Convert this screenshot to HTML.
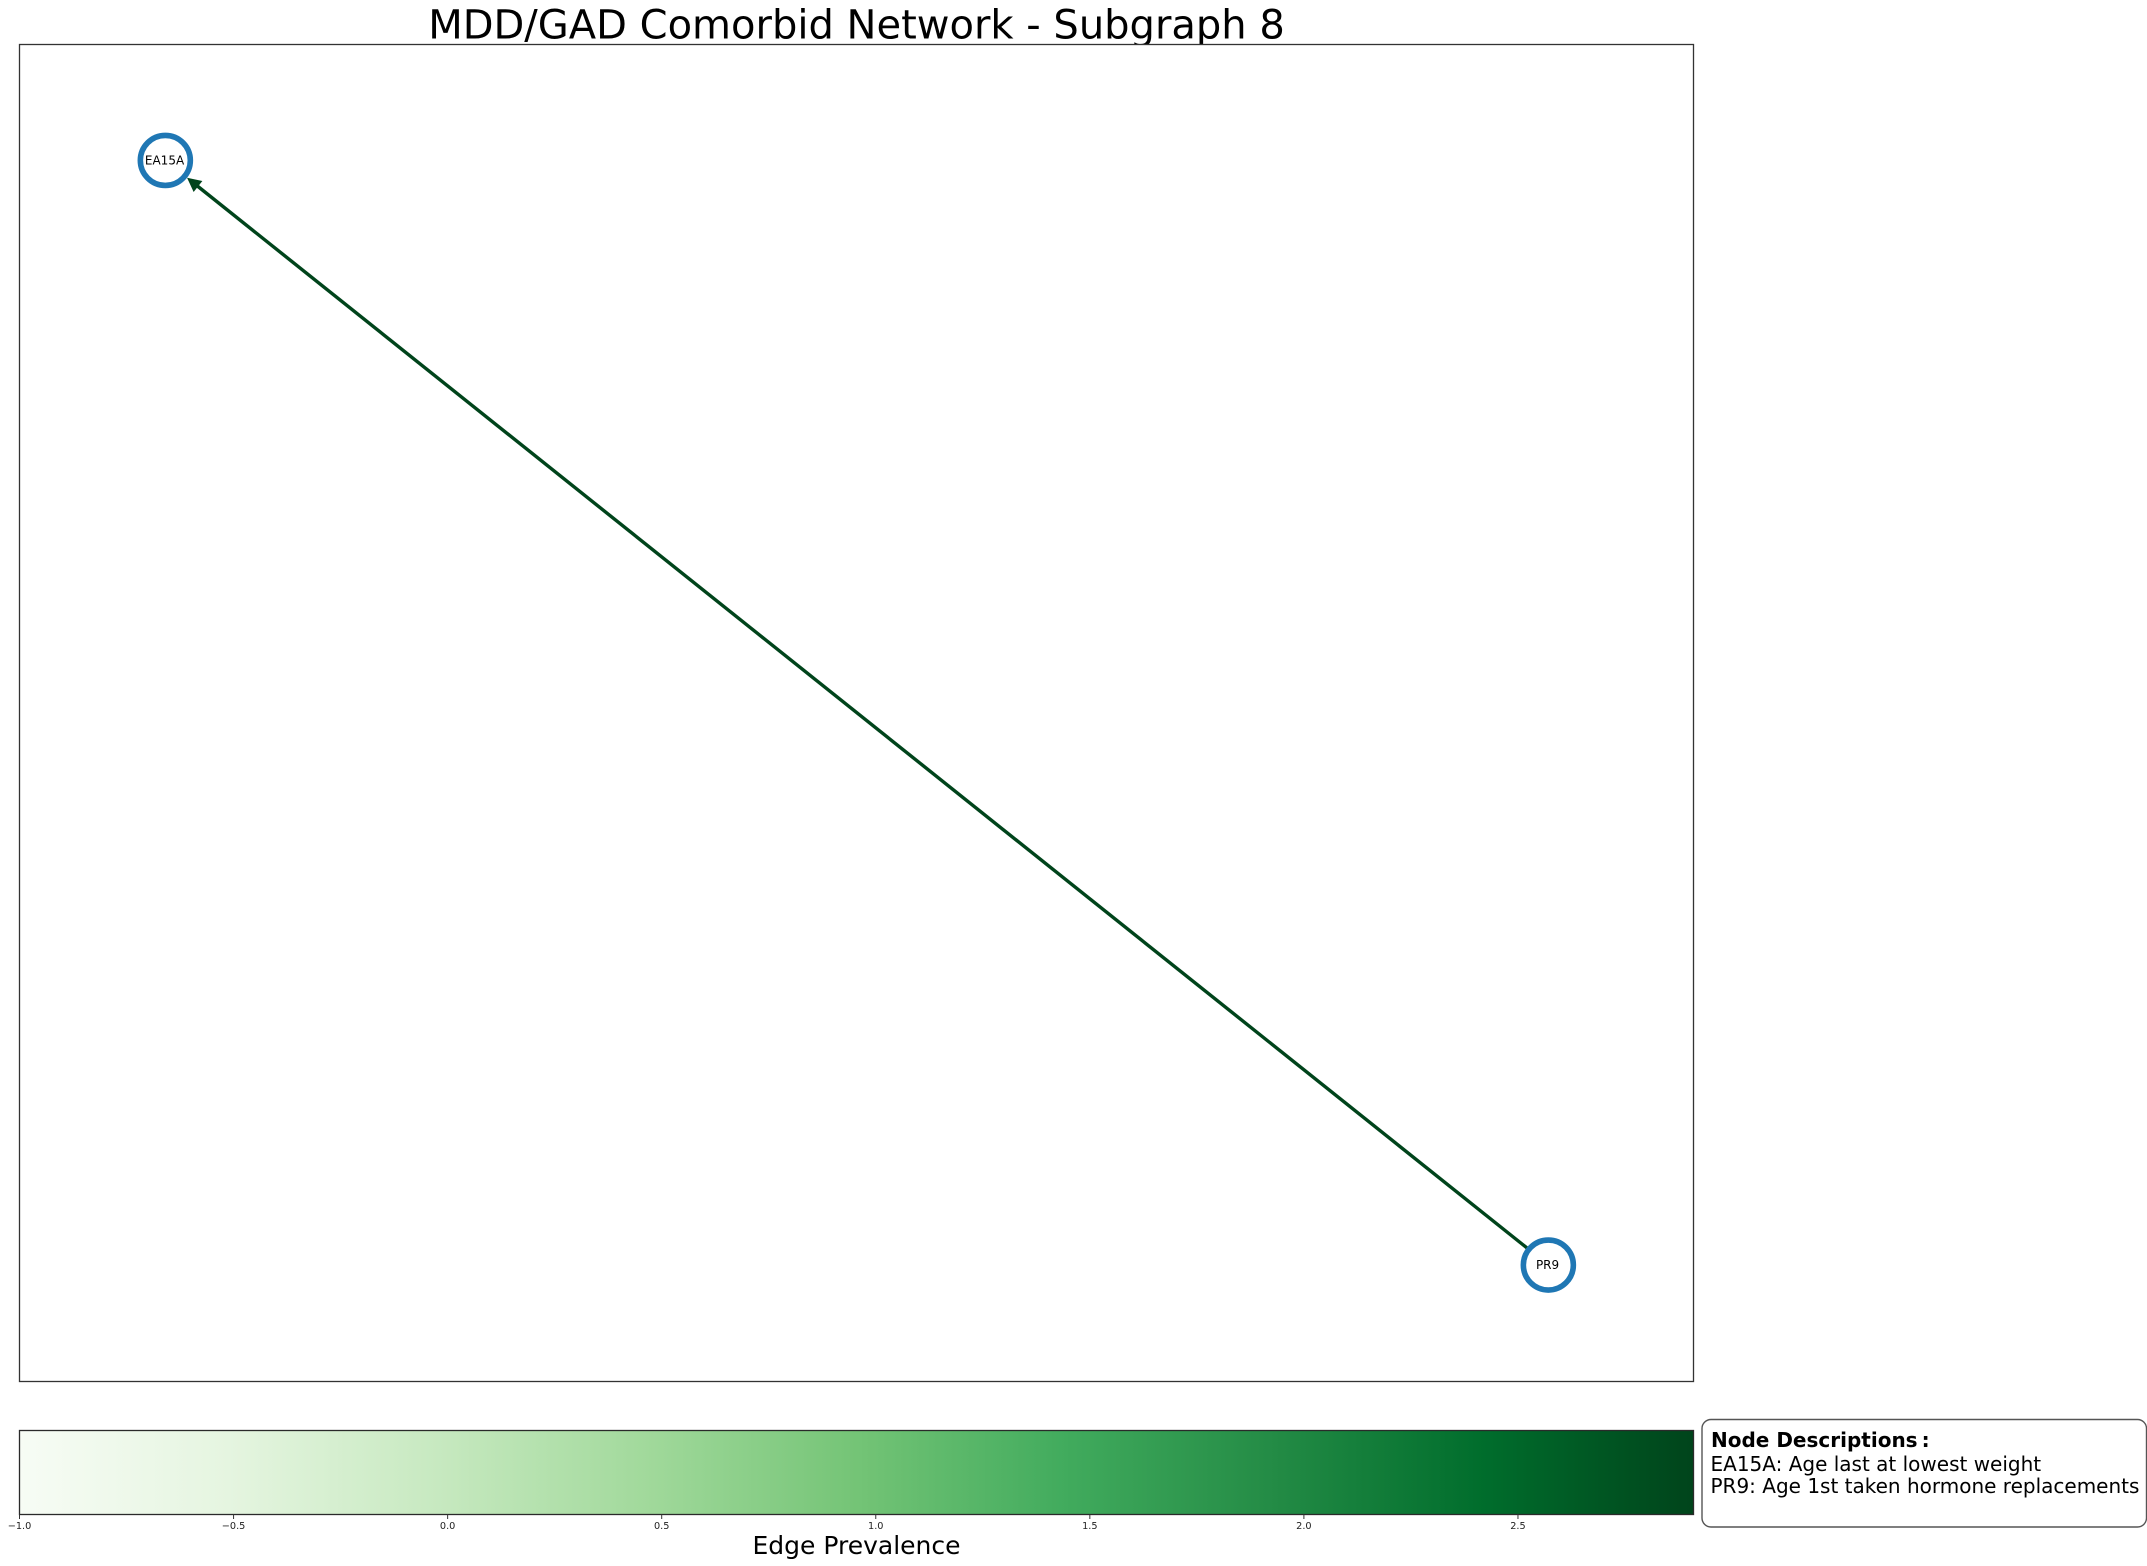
<!DOCTYPE html>
<html>
<head>
<meta charset="utf-8">
<title>MDD/GAD Comorbid Network - Subgraph 8</title>
<style>
html,body{margin:0;padding:0;background:#fff;width:2147px;height:1566px;overflow:hidden}
svg{display:block;position:absolute;left:0;top:0}
text{font-family:"DejaVu Sans","Liberation Sans",sans-serif;fill:#000}
</style>
</head>
<body>
<svg id="chart" xmlns="http://www.w3.org/2000/svg" width="2147" height="1566" viewBox="0 0 2147 1566">
  <defs>
    <linearGradient id="greens" x1="0" y1="0" x2="1" y2="0"></linearGradient>
  </defs>
  <rect x="0" y="0" width="2147" height="1566" fill="#fff"/>
  <text x="856.5" y="38.5" text-anchor="middle" font-size="40">MDD/GAD Comorbid Network - Subgraph 8</text>
  <rect x="19.5" y="44.5" width="1674" height="1337" fill="#fff" stroke="#333" stroke-width="1.3"/>
  <g id="edges"></g>
  <g id="nodes"></g>
  <rect x="19.5" y="1430.5" width="1674" height="84" fill="url(#greens)" stroke="#2a2a2a" stroke-width="1.3"/>
  <g id="cbticks"></g>
  <text x="856.5" y="1554" text-anchor="middle" font-size="25">Edge Prevalence</text>
  <g>
    <rect x="1702" y="1419.5" width="444.5" height="107.5" rx="9" ry="9" fill="#fff" stroke="#555" stroke-width="1.4"/>
    <text x="1711" y="1447" font-size="20" font-weight="bold">Node Descriptions<tspan dx="4">:</tspan></text>
    <text x="1710.5" y="1471" font-size="20">EA15A: Age last at lowest weight</text>
    <text x="1710.5" y="1493" font-size="20">PR9: Age 1st taken hormone replacements</text>
  </g>
</svg>
<script>
// Chart data
const nodeLabels = ['EA15A', 'PR9'];
const nodeX = [-1, 1.001];
const nodeY = [1.001, -1];
const edgeSource = [1];
const edgeTarget = [0];
const edgePrevalence = [2.91];
const colorbarTicks = [-1.0, -0.5, 0.0, 0.5, 1.0, 1.5, 2.0, 2.5];
const colorbarTickLabels = ['\u22121.0', '\u22120.5', '0.0', '0.5', '1.0', '1.5', '2.0', '2.5'];
const colorbarDomain = [-1, 2.91];
const xDomain = [-1.211, 1.211];
const yDomain = [-1.211, 1.211];
const greens = ['#f7fcf5', '#e5f5e0', '#c7e9c0', '#a1d99b', '#74c476', '#41ab5d', '#238b45', '#006d2c', '#00441b'];

const NS = 'http://www.w3.org/2000/svg';
const plot = { left: 19.5, right: 1693.5, top: 44.5, bottom: 1381.5 };
const bar = { left: 19.5, right: 1693.5, bottom: 1514.5 };
const nodeRadius = 25;
const nodeOuter = 27.8;

function xScale(v) {
  return plot.left + (v - xDomain[0]) / (xDomain[1] - xDomain[0]) * (plot.right - plot.left);
}
function yScale(v) {
  return plot.bottom - (v - yDomain[0]) / (yDomain[1] - yDomain[0]) * (plot.bottom - plot.top);
}
function cbScale(v) {
  return bar.left + (v - colorbarDomain[0]) / (colorbarDomain[1] - colorbarDomain[0]) * (bar.right - bar.left);
}
function hexToRgb(h) {
  return [1, 3, 5].map(function (i) { return parseInt(h.substr(i, 2), 16); });
}
function colorFor(v) {
  let t = (v - colorbarDomain[0]) / (colorbarDomain[1] - colorbarDomain[0]);
  t = Math.max(0, Math.min(1, t)) * (greens.length - 1);
  const i = Math.min(Math.floor(t), greens.length - 2);
  const a = hexToRgb(greens[i]);
  const b = hexToRgb(greens[i + 1]);
  const f = t - i;
  return 'rgb(' + a.map(function (c, k) { return Math.round(c + (b[k] - c) * f); }).join(',') + ')';
}
function make(tag, attrs) {
  const el = document.createElementNS(NS, tag);
  Object.keys(attrs).forEach(function (k) { el.setAttribute(k, attrs[k]); });
  return el;
}

// Colour bar gradient
const gradient = document.getElementById('greens');
greens.forEach(function (c, i) {
  gradient.appendChild(make('stop', { offset: (i / (greens.length - 1)), 'stop-color': c }));
});

// Edges
const edgeGroup = document.getElementById('edges');
edgePrevalence.forEach(function (value, i) {
  const s = edgeSource[i];
  const t = edgeTarget[i];
  const x1 = xScale(nodeX[s]);
  const y1 = yScale(nodeY[s]);
  const x2 = xScale(nodeX[t]);
  const y2 = yScale(nodeY[t]);
  const len = Math.hypot(x2 - x1, y2 - y1);
  const ux = (x2 - x1) / len;
  const uy = (y2 - y1) / len;
  const tipX = x2 - ux * nodeOuter;
  const tipY = y2 - uy * nodeOuter;
  const head = 14;
  const half = 7;
  const color = colorFor(value);
  const line = make('line', {
    x1: x1, y1: y1,
    x2: tipX - ux * (head - 2), y2: tipY - uy * (head - 2),
    stroke: color, 'stroke-width': 3.4
  });
  
  
  edgeGroup.appendChild(line);
  const bx = tipX - ux * head;
  const by = tipY - uy * head;
  const pts = [
    [tipX, tipY],
    [bx - uy * half, by + ux * half],
    [bx + uy * half, by - ux * half]
  ].map(function (p) { return p.join(','); }).join(' ');
  const arrow = make('polygon', { points: pts, fill: color });
  
  
  edgeGroup.appendChild(arrow);
});

// Nodes
const nodeGroup = document.getElementById('nodes');
nodeLabels.forEach(function (label, i) {
  const cx = xScale(nodeX[i]);
  const cy = yScale(nodeY[i]);
  const circle = make('circle', { cx: cx, cy: cy, r: nodeRadius, fill: '#fff', stroke: '#1f77b4', 'stroke-width': 5.6 });
  
  
  nodeGroup.appendChild(circle);
  const text = make('text', { x: cx - 0.8, y: cy + 4.2, 'text-anchor': 'middle', 'font-size': 12 });
  
  
  text.textContent = label;
  nodeGroup.appendChild(text);
});

// Colour bar ticks
const tickGroup = document.getElementById('cbticks');
colorbarTicks.forEach(function (v, i) {
  const x = cbScale(v);
  const tick = make('line', { x1: x, x2: x, y1: bar.bottom, y2: bar.bottom + 4.5, stroke: '#333', 'stroke-width': 1 });
  
  
  tickGroup.appendChild(tick);
  const lab = make('text', { x: x, y: bar.bottom + 14.5, 'text-anchor': 'middle', 'font-size': 9.72, style: 'fill:#222' });
  
  
  lab.textContent = colorbarTickLabels[i];
  tickGroup.appendChild(lab);
});
</script>
</body>
</html>
